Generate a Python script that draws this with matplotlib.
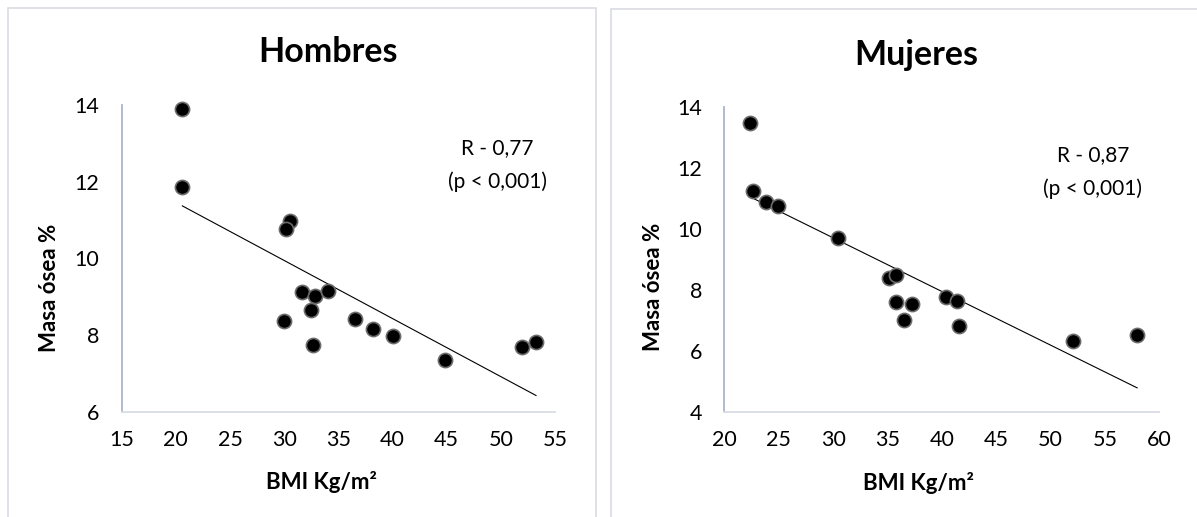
import numpy as np
import matplotlib
matplotlib.use("Agg")
import matplotlib.pyplot as plt
from matplotlib.patches import Rectangle

plt.rcParams['font.family'] = ['Lato', 'DejaVu Sans']

# --- Datos ---
bmi_hombres = [20.6, 20.6, 30.5, 30.13, 31.68, 32.8, 34.0, 32.5, 30.0,
               36.56, 38.22, 40.0, 32.7, 44.83, 51.94, 53.25]
masa_hombres = [13.89, 11.85, 10.98, 10.77, 9.11, 9.03, 9.16, 8.64, 8.375,
                8.42, 8.16, 7.98, 7.75, 7.34, 7.68, 7.81]

bmi_mujeres = [22.35, 22.63, 23.79, 24.91, 30.49, 35.16, 35.79, 35.75, 37.26,
               36.49, 40.42, 41.37, 41.61, 52.1, 57.96]
masa_mujeres = [13.47, 11.24, 10.88, 10.77, 9.70, 8.40, 8.51, 7.60, 7.56,
                7.03, 7.77, 7.66, 6.82, 6.33, 6.52]

W, H = 1197, 517
fig = plt.figure(figsize=(W / 100, H / 100), dpi=100)

# marcos grises de cada gráfico (estilo Excel)
fig.patches.append(Rectangle((7.5 / W, -0.02), (596 - 7.5) / W, 1.02 - 7.5 / H,
                             transform=fig.transFigure, fill=False,
                             edgecolor='#d9dce3', linewidth=1.2))
fig.patches.append(Rectangle((610.7 / W, -0.02), 0.6, 1.02 - 9.3 / H,
                             transform=fig.transFigure, fill=False,
                             edgecolor='#d9dce3', linewidth=1.2))

paneles = [
    dict(rect=[121.7 / W, 1 - 411.7 / H, (555 - 121.7) / W, (411.7 - 105) / H],
         x=bmi_hombres, y=masa_hombres, xlim=(15, 55), ylim=(6, 14),
         titulo='Hombres', tpos=(328.4 / W, 1 - 51.7 / H),
         r_txt='R - 0,77', rpos=(49.7, 12.88, 12.0),
         xl=(0.461, -0.228), yl=(-0.166, 0.403)),
    dict(rect=[724.3 / W, 1 - 412.3 / H, (1159.3 - 724.3) / W, (412.3 - 107) / H],
         x=bmi_mujeres, y=masa_mujeres, xlim=(20, 60), ylim=(4, 14),
         titulo='Mujeres', tpos=(916.7 / W, 1 - 55 / H),
         r_txt='R - 0,87', rpos=(53.9, 12.43, 11.32),
         xl=(0.447, -0.232), yl=(-0.163, 0.410)),
]

for p in paneles:
    ax = fig.add_axes(p['rect'])
    x = np.array(p['x'])
    y = np.array(p['y'])

    # línea de tendencia (regresión lineal)
    m, b = np.polyfit(x, y, 1)
    xs = np.array([x.min(), x.max()])
    ax.plot(xs, m * xs + b, color='black', linewidth=0.8, zorder=2)

    ax.plot(x, y, 'o', markersize=10.2, markerfacecolor='black',
            markeredgecolor='#6b6b6b', markeredgewidth=1.2, zorder=3,
            clip_on=False)

    ax.set_xlim(*p['xlim'])
    ax.set_ylim(*p['ylim'])
    ax.set_xticks(np.arange(p['xlim'][0], p['xlim'][1] + 1, 5))
    ax.set_yticks(np.arange(p['ylim'][0], p['ylim'][1] + 1, 2))
    ax.tick_params(length=0, labelsize=15.5, colors='black')
    ax.tick_params(axis='x', pad=13)
    ax.tick_params(axis='y', pad=16)

    for s in ['top', 'right']:
        ax.spines[s].set_visible(False)
    ax.spines['left'].set_color('#aab4cb')
    ax.spines['left'].set_linewidth(1.3)
    ax.spines['bottom'].set_color('#d9dce3')
    ax.spines['bottom'].set_linewidth(1.3)

    ax.set_xlabel('BMI Kg/m²', fontsize=16, fontweight='bold')
    ax.set_ylabel('Masa ósea %', fontsize=16, fontweight='bold')
    ax.xaxis.set_label_coords(*p['xl'])
    ax.yaxis.set_label_coords(*p['yl'])
    ax.xaxis.label.set_va('center')
    ax.yaxis.label.set_va('center')

    fig.text(p['tpos'][0], p['tpos'][1], p['titulo'], fontsize=24.5,
             fontweight='bold', ha='center', va='center')

    rx, ry1, ry2 = p['rpos']
    ax.text(rx, ry1, p['r_txt'], fontsize=15, ha='center', va='center')
    ax.text(rx, ry2, '(p < 0,001)', fontsize=15, ha='center', va='center')

fig.savefig('out.png', dpi=100)
